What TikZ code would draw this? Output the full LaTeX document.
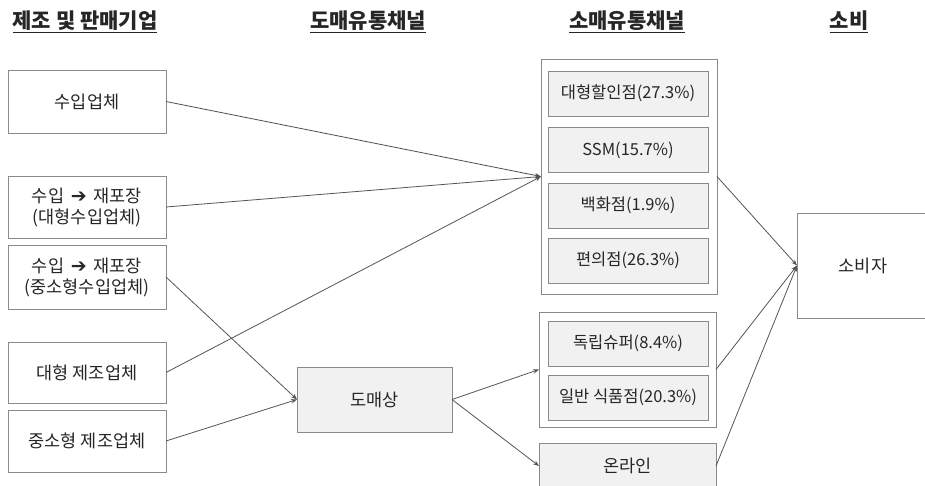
\documentclass[tikz,border=0pt]{standalone}
\usepackage{fontspec}
\setmainfont{Noto Sans CJK KR}
\newfontfamily\symfont{DejaVu Sans}
\usetikzlibrary{arrows.meta}
\definecolor{boxline}{HTML}{8A8A8A}
\definecolor{boxfill}{HTML}{F1F1F1}
\definecolor{arrline}{HTML}{555555}
\newcommand{\bigarr}{{\symfont\fontsize{19}{20}\selectfont ➔}}
\begin{document}
\begin{tikzpicture}[x=1pt,y=-1pt,
  every node/.style={inner sep=0pt,outer sep=0pt,font=\fontsize{17.5}{21}\selectfont,text=black!85},
  srcbox/.style={draw=boxline,line width=0.9pt,fill=white,minimum width=158pt,align=center},
  grpbox/.style={draw=boxline,line width=0.9pt,fill=white},
  shopbox/.style={draw=boxline,line width=0.9pt,fill=boxfill,minimum width=160pt,minimum height=45pt,font=\fontsize{16.5}{20}\selectfont},
  head/.style={font=\fontsize{21}{25}\selectfont\bfseries},
  flow/.style={draw=arrline,line width=0.8pt,-{Stealth[length=6pt,width=4.5pt]}}]
\clip (0,0) rectangle (925,485);
\fill[white] (0,0) rectangle (925,485);
% headers
\node[head] (h1) at (85,22) {\underline{제조 및 판매기업}};
\node[head] (h2) at (368,22) {\underline{도매유통채널}};
\node[head] (h3) at (627,22) {\underline{소매유통채널}};
\node[head] (h4) at (849,22) {\underline{소비}};
% sources
\node[srcbox,minimum height=63pt] (a1) at (87,101.5) {수입업체};
\node[srcbox,minimum height=62pt] (a2) at (87,207) {수입\, \bigarr\, 재포장\\(대형수입업체)};
\node[srcbox,minimum height=64pt] (a3) at (87,277) {수입\, \bigarr\, 재포장\\(중소형수입업체)};
\node[srcbox,minimum height=61pt] (a4) at (87,372.5) {대형 제조업체};
\node[srcbox,minimum height=62pt] (a5) at (87,441) {중소형 제조업체};
% wholesale
\node[draw=boxline,line width=0.9pt,fill=boxfill,minimum width=155pt,minimum height=65pt] (w) at (374.5,399.5) {도매상};
% retail group 1
\node[grpbox,minimum width=176pt,minimum height=235pt] (g1) at (629,176.5) {};
\node[shopbox] (r1) at (628,93.5) {대형할인점(27.3\%)};
\node[shopbox] (r2) at (628,150) {SSM(15.7\%)};
\node[shopbox] (r3) at (628,205.5) {백화점(1.9\%)};
\node[shopbox] (r4) at (628,260.5) {편의점(26.3\%)};
% retail group 2
\node[grpbox,minimum width=177pt,minimum height=115pt] (g2) at (627.5,369.5) {};
\node[shopbox] (r5) at (628,343.5) {독립슈퍼(8.4\%)};
\node[shopbox] (r6) at (628,397.5) {일반 식품점(20.3\%)};
% online
\node[draw=boxline,line width=0.9pt,fill=boxfill,minimum width=177pt,minimum height=46pt] (on) at (627.5,466) {온라인};
% consumer
\node[draw=boxline,line width=0.9pt,fill=white,minimum width=132pt,minimum height=105pt] (c) at (863,265.5) {소비자};
% arrows
\draw[flow] (a1.east) -- (g1.west);
\draw[flow] (a2.east) -- (g1.west);
\draw[flow] (a4.east) -- (g1.west);
\draw[flow] (a3.east) -- (w.west);
\draw[flow] (a5.east) -- (w.west);
\draw[flow] (w.east) -- (g2.west);
\draw[flow] (w.east) -- (on.west);
\draw[flow] (g1.east) -- (c.west);
\draw[flow] (g2.east) -- (c.west);
\draw[flow] (on.east) -- (c.west);
\end{tikzpicture}
\end{document}
